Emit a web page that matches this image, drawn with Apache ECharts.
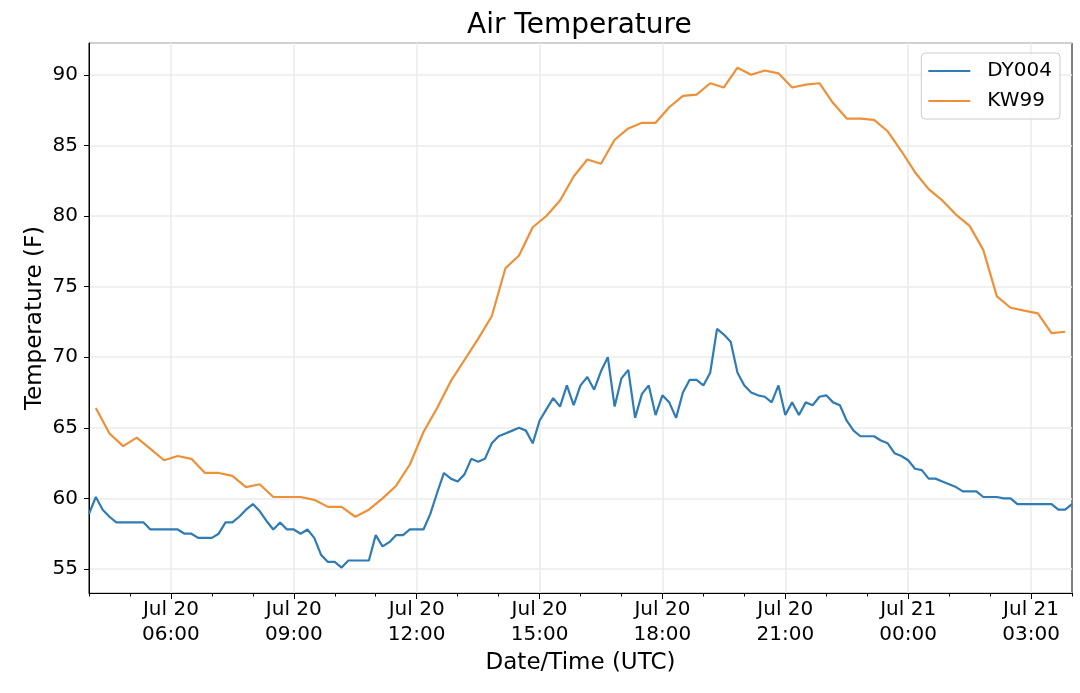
<!DOCTYPE html>
<html>
<head>
<meta charset="utf-8">
<script src="https://cdn.jsdelivr.net/npm/echarts@6/dist/echarts.min.js"></script>
<style>
  html, body { margin: 0; padding: 0; background: #fff; }
  #chart { width: 1080px; height: 693px; }
</style>
</head>
<body>
<div id="chart"></div>
<script>
// 10-minute readings, Jul 20 04:00 -> Jul 21 04:00 (UTC)
const dy004 = [
  58.9, 60.1, 59.2, 58.7, 58.3, 58.3,   // 04
  58.3, 58.3, 58.3, 57.8, 57.8, 57.8,   // 05
  57.8, 57.8, 57.5, 57.5, 57.2, 57.2,   // 06
  57.2, 57.5, 58.3, 58.3, 58.7, 59.2,   // 07
  59.6, 59.1, 58.4, 57.8, 58.3, 57.8,   // 08
  57.8, 57.5, 57.8, 57.2, 56.0, 55.5,   // 09
  55.5, 55.1, 55.6, 55.6, 55.6, 55.6,   // 10
  57.4, 56.6, 56.9, 57.4, 57.4, 57.8,   // 11
  57.8, 57.8, 58.9, 60.4, 61.8, 61.4,   // 12
  61.2, 61.7, 62.8, 62.6, 62.8, 63.9,   // 13
  64.4, 64.6, 64.8, 65.0, 64.8, 63.9,   // 14
  65.5, 66.3, 67.1, 66.5, 68.0, 66.6,   // 15
  68.0, 68.6, 67.7, 69.0, 70.0, 66.5,   // 16
  68.5, 69.1, 65.7, 67.4, 68.0, 65.9,   // 17
  67.3, 66.8, 65.7, 67.5, 68.4, 68.4,   // 18
  68.0, 68.9, 72.0, 71.6, 71.1, 68.9,   // 19
  68.0, 67.5, 67.3, 67.2, 66.8, 68.0,   // 20
  65.9, 66.8, 65.9, 66.8, 66.6, 67.2,   // 21
  67.3, 66.8, 66.6, 65.5, 64.8, 64.4,   // 22
  64.4, 64.4, 64.1, 63.9, 63.2, 63.0,   // 23
  62.7, 62.1, 62.0, 61.4, 61.4, 61.2,   // 00
  61.0, 60.8, 60.5, 60.5, 60.5, 60.1,   // 01
  60.1, 60.1, 60.0, 60.0, 59.6, 59.6,   // 02
  59.6, 59.6, 59.6, 59.6, 59.2, 59.2,   // 03
  59.6                                  // 04
]

// 20-minute readings at :10, :30, :50, Jul 20 04:10 -> Jul 21 03:50
const kw99 = [
  66.4, 64.6, 63.7,   // 04
  64.3, 63.5, 62.7,   // 05
  63.0, 62.8, 61.8,   // 06
  61.8, 61.6, 60.8,   // 07
  61.0, 60.1, 60.1,   // 08
  60.1, 59.9, 59.4,   // 09
  59.4, 58.7, 59.2,   // 10
  60.0, 60.9, 62.4,   // 11
  64.7, 66.4, 68.3,   // 12
  69.8, 71.3, 72.9,   // 13
  76.3, 77.2, 79.2,   // 14
  80.0, 81.1, 82.8,   // 15
  84.0, 83.7, 85.4,   // 16
  86.2, 86.6, 86.6,   // 17
  87.7, 88.5, 88.6,   // 18
  89.4, 89.1, 90.5,   // 19
  90.0, 90.3, 90.1,   // 20
  89.1, 89.3, 89.4,   // 21
  88.0, 86.9, 86.9,   // 22
  86.8, 86.0, 84.6,   // 23
  83.1, 81.9, 81.1,   // 00
  80.1, 79.3, 77.6,   // 01
  74.3, 73.5, 73.3,   // 02
  73.1, 71.7, 71.8    // 03
]

const yTicks = [55, 60, 65, 70, 75, 80, 85, 90]

// time categories every 10 minutes
const startMinutes = 4 * 60
const stepMinutes = 10
const times = []
for (let i = 0; i < dy004.length; i++) {
  const m = startMinutes + i * stepMinutes
  const day = 20 + Math.floor(m / 1440)
  const hh = Math.floor((m % 1440) / 60)
  const mm = m % 60
  times.push({ day, hh, mm, label: 'Jul ' + day + '\n' + String(hh).padStart(2, '0') + ':' + String(mm).padStart(2, '0') })
}
const categories = times.map(t => t.label)

// KW99 sits on every other 10-minute slot, starting at 04:10
const kw99Data = categories.map(() => null)
kw99.forEach((v, i) => { kw99Data[1 + i * 2] = v })

const isMajor = (i) => times[i].mm === 0 && times[i].hh % 3 === 0
const isHour = (i) => times[i].mm === 0

const font = 'DejaVu Sans'
const gridColor = '#ebebeb'

const chart = echarts.init(document.getElementById('chart'), null, { renderer: 'canvas' })

chart.setOption({
  animation: false,
  backgroundColor: '#fff',
  textStyle: { fontFamily: font, color: '#000' },

  title: {
    text: 'Air Temperature',
    left: 467,
    top: 12,
    padding: 0,
    textStyle: { fontFamily: font, fontSize: 28, fontWeight: 'normal', color: '#000' }
  },

  legend: {
    data: ['DY004', 'KW99'],
    orient: 'vertical',
    right: 20,
    top: 53,
    icon: 'rect',
    itemWidth: 42,
    itemHeight: 2,
    itemGap: 10,
    padding: [8, 8, 8, 7],
    backgroundColor: 'rgba(255,255,255,0.8)',
    borderColor: '#cccccc',
    borderWidth: 1,
    borderRadius: 4,
    textStyle: { fontFamily: font, fontSize: 20, lineHeight: 20, color: '#000', padding: [0, 0, 0, 12] }
  },

  grid: {
    left: 89,
    right: 8,
    top: 43,
    bottom: 100,
    show: true,
    borderColor: '#000',
    borderWidth: 1
  },

  xAxis: [
    {
      type: 'category',
      data: categories,
      boundaryGap: false,
      position: 'bottom',
      name: 'Date/Time (UTC)',
      nameLocation: 'middle',
      nameGap: 51,
      nameTextStyle: { fontFamily: font, fontSize: 23, color: '#000' },
      axisLine: { show: true, lineStyle: { color: '#000', width: 1 } },
      axisTick: { show: true, interval: isMajor, length: 6, lineStyle: { color: '#000', width: 1 } },
      axisLabel: {
        interval: isMajor,
        margin: 4,
        fontFamily: font,
        fontSize: 20,
        lineHeight: 25,
        color: '#000'
      },
      splitLine: { show: true, interval: isMajor, lineStyle: { color: gridColor, width: 1.5 } }
    },
    {
      type: 'category',
      data: categories,
      boundaryGap: false,
      position: 'bottom',
      axisLine: { show: false },
      axisTick: { show: true, interval: isHour, length: 3.5, lineStyle: { color: '#000', width: 1 } },
      axisLabel: { show: false },
      splitLine: { show: false }
    }
  ],

  yAxis: {
    type: 'value',
    min: 53.3,
    max: 92.25,
    splitNumber: 8,
    minInterval: 5,
    maxInterval: 5,
    name: 'Temperature (F)',
    nameLocation: 'middle',
    nameGap: 42,
    nameMoveOverlap: false,
    nameTextStyle: { fontFamily: font, fontSize: 23, color: '#000' },
    axisLine: { show: true, lineStyle: { color: '#000', width: 1 } },
    axisTick: { show: true, length: 5, lineStyle: { color: '#000', width: 1 } },
    axisLabel: {
      margin: 11,
      fontFamily: font,
      fontSize: 20,
      color: '#000',
      showMinLabel: false,
      showMaxLabel: false,
      formatter: (v) => (yTicks.includes(v) ? String(v) : '')
    },
    splitLine: { show: true, lineStyle: { color: gridColor, width: 1.5 } }
  },

  series: [
    {
      name: 'DY004',
      type: 'line',
      xAxisIndex: 0,
      data: dy004,
      symbol: 'none',
      lineStyle: { width: 2.2, color: '#2f7bb3' },
      itemStyle: { color: '#2f7bb3' }
    },
    {
      name: 'KW99',
      type: 'line',
      xAxisIndex: 0,
      data: kw99Data,
      connectNulls: true,
      symbol: 'none',
      lineStyle: { width: 2.2, color: '#ee9037' },
      itemStyle: { color: '#ee9037' }
    }
  ]
})
</script>
</body>
</html>
